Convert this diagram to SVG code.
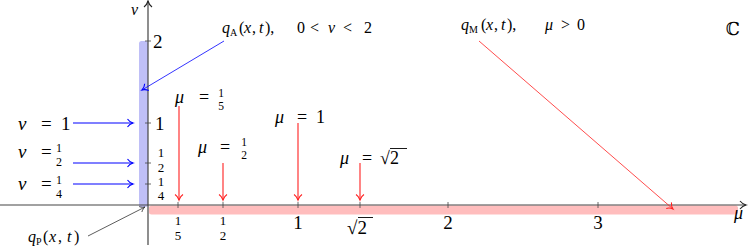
<svg xmlns="http://www.w3.org/2000/svg" width="748" height="249" viewBox="0 0 748 249">
<style>
text{font-family:"Liberation Serif","DejaVu Serif",serif;fill:#000}
.i{font-style:italic}
.ax{stroke:#444;stroke-width:1.2;fill:none}
.tk{stroke:#444;stroke-width:0.8}
.bl{stroke:#0000ff;stroke-width:1.1;fill:none}
.bt{stroke:#0000ff;stroke-width:0.8;fill:none}
.rd{stroke:#ff2020;stroke-width:1.1;fill:none}
.rt{stroke:#ff2020;stroke-width:0.8;fill:none}
.kt{stroke:#333;stroke-width:0.8;fill:none}
.big{font-size:19px}
.mid{font-size:18px}
.sm{font-size:13px}
.fr{font-size:12px}
.fs{font-size:11.5px}
.lab{font-size:16px}
.sub{font-size:10px}
</style>
<defs>
<marker id="ak" markerUnits="userSpaceOnUse" orient="auto" overflow="visible" refX="0" refY="0" markerWidth="10" markerHeight="10"><path d="M-6,-4 C-4,-1.5 -1.5,-0.4 0,0 C-1.5,0.4 -4,1.5 -6,4" fill="none" stroke="#222" stroke-width="1.1"/></marker>
<marker id="ab" markerUnits="userSpaceOnUse" orient="auto" overflow="visible" refX="0" refY="0" markerWidth="10" markerHeight="10"><path d="M-5.5,-4 C-3.8,-1.4 -1.4,-0.4 0,0 C-1.4,0.4 -3.8,1.4 -5.5,4" fill="none" stroke="#0000ff" stroke-width="1.1"/></marker>
<marker id="ar" markerUnits="userSpaceOnUse" orient="auto" overflow="visible" refX="0" refY="0" markerWidth="10" markerHeight="10"><path d="M-5.5,-4 C-3.8,-1.4 -1.4,-0.4 0,0 C-1.4,0.4 -3.8,1.4 -5.5,4" fill="none" stroke="#ff2020" stroke-width="1.1"/></marker>
<marker id="ak2" markerUnits="userSpaceOnUse" orient="auto" overflow="visible" refX="0" refY="0" markerWidth="10" markerHeight="10"><path d="M-5,-3 C-3.4,-1.1 -1.2,-0.3 0,0 C-1.2,0.3 -3.4,1.1 -5,3" fill="none" stroke="#333" stroke-width="0.8"/></marker>
</defs>

<g id="bands">
<rect x="139" y="41" width="9" height="166" rx="2.5" fill="#bfbff7"/>
<rect x="149" y="205.5" width="589" height="9" rx="2.5" fill="#ffbdbd"/>
</g>

<g id="axes">
<line class="ax" x1="0" y1="205" x2="746" y2="205" marker-end="url(#ak)"/>
<line class="ax" x1="148" y1="245" x2="148" y2="1" marker-end="url(#ak)"/>
<g class="tk">
<line x1="145" y1="41" x2="151" y2="41"/>
<line x1="145" y1="123" x2="151" y2="123"/>
<line x1="145" y1="163" x2="151" y2="163"/>
<line x1="145" y1="184" x2="151" y2="184"/>
<line x1="178" y1="202" x2="178" y2="208"/>
<line x1="223" y1="202" x2="223" y2="208"/>
<line x1="298" y1="202" x2="298" y2="208"/>
<line x1="360" y1="202" x2="360" y2="208"/>
<line x1="448" y1="202" x2="448" y2="208"/>
<line x1="598" y1="202" x2="598" y2="208"/>
</g>
<text class="i" font-size="16" x="131" y="15">ν</text>
<text class="i mid" x="734" y="219">μ</text>
<text class="big" x="153" y="48">2</text>
<text class="big" x="155" y="130">1</text>
<text class="sm" text-anchor="middle"><tspan x="161" y="157">1</tspan><tspan x="161" y="172">2</tspan></text>
<text class="sm" text-anchor="middle"><tspan x="161" y="186">1</tspan><tspan x="161" y="200">4</tspan></text>
<text class="sm" text-anchor="middle"><tspan x="178" y="225">1</tspan><tspan x="178" y="240">5</tspan></text>
<text class="sm" text-anchor="middle"><tspan x="223" y="225">1</tspan><tspan x="223" y="240">2</tspan></text>
<text class="big" text-anchor="middle" x="298" y="229">1</text>
<text class="big" x="347" y="234">√2</text>
<line x1="358" y1="217.5" x2="373" y2="217.5" stroke="#000" stroke-width="0.9"/>
<text class="big" text-anchor="middle" x="448" y="229">2</text>
<text class="big" text-anchor="middle" x="598" y="229">3</text>
<text x="733" y="35" font-size="18" text-anchor="middle" font-family="DejaVu Serif, serif">ℂ</text>
</g>

<g id="nu-labels">
<text class="big" y="130"><tspan class="i" x="18">ν</tspan><tspan x="41">=</tspan><tspan x="61">1</tspan></text>
<text class="big" y="158"><tspan class="i" x="18">ν</tspan><tspan x="41">=</tspan></text>
<text class="fr" text-anchor="middle"><tspan x="59" y="152">1</tspan><tspan x="59" y="166">2</tspan></text>
<text class="big" y="190"><tspan class="i" x="18">ν</tspan><tspan x="41">=</tspan></text>
<text class="fr" text-anchor="middle"><tspan x="59" y="184">1</tspan><tspan x="59" y="198">4</tspan></text>
</g>

<g id="mu-labels">
<text class="mid" y="103"><tspan class="i" x="175">μ</tspan><tspan x="199">=</tspan></text>
<text class="fs" text-anchor="middle"><tspan x="221" y="97">1</tspan><tspan x="221" y="110">5</tspan></text>
<text class="mid" y="153"><tspan class="i" x="198">μ</tspan><tspan x="220">=</tspan></text>
<text class="fs" text-anchor="middle"><tspan x="244" y="146">1</tspan><tspan x="244" y="159">2</tspan></text>
<text class="mid" y="123"><tspan class="i" x="275">μ</tspan><tspan x="297">=</tspan><tspan x="316">1</tspan></text>
<text class="mid" y="164"><tspan class="i" x="340">μ</tspan><tspan x="362">=</tspan><tspan x="380">√2</tspan></text>
<line x1="390" y1="148.5" x2="407" y2="148.5" stroke="#000" stroke-width="0.9"/>
</g>

<g id="q-labels">
<text class="lab" y="33"><tspan class="i" x="222">q</tspan><tspan class="sub" x="230" dy="3">A</tspan><tspan x="239" dy="-3">(</tspan><tspan class="i" x="244">x</tspan><tspan x="252">,</tspan><tspan class="i" x="259">t</tspan><tspan x="265">),</tspan></text>
<text class="lab" y="33"><tspan x="297">0</tspan><tspan x="310">&lt;</tspan><tspan class="i" x="328">ν</tspan><tspan x="343">&lt;</tspan><tspan x="364">2</tspan></text>
<text class="lab" y="30"><tspan class="i" x="461">q</tspan><tspan class="sub" x="469" dy="3">M</tspan><tspan x="481" dy="-3">(</tspan><tspan class="i" x="486">x</tspan><tspan x="494">,</tspan><tspan class="i" x="501">t</tspan><tspan x="507">),</tspan></text>
<text class="lab" y="30"><tspan class="i" x="545">μ</tspan><tspan x="561">&gt;</tspan><tspan x="577">0</tspan></text>
<text class="lab" font-size="17" y="242"><tspan class="i" x="28">q</tspan><tspan class="sub" x="36" dy="3">P</tspan><tspan x="43" dy="-3">(</tspan><tspan class="i" x="49">x</tspan><tspan x="58">,</tspan><tspan class="i" x="67">t</tspan><tspan x="74">)</tspan></text>
</g>

<g id="connectors">
<line class="bl" x1="73" y1="123" x2="133" y2="123" marker-end="url(#ab)"/>
<line class="bl" x1="73" y1="163" x2="133" y2="163" marker-end="url(#ab)"/>
<line class="bl" x1="73" y1="184" x2="133" y2="184" marker-end="url(#ab)"/>
<line class="bt" x1="224" y1="41" x2="142" y2="90" marker-end="url(#ab)"/>
<line class="rd" x1="179" y1="106" x2="179" y2="200" marker-end="url(#ar)"/>
<line class="rd" x1="223" y1="163" x2="223" y2="200" marker-end="url(#ar)"/>
<line class="rd" x1="298" y1="123" x2="298" y2="200" marker-end="url(#ar)"/>
<line class="rd" x1="360" y1="163" x2="360" y2="200" marker-end="url(#ar)"/>
<line class="rt" x1="479" y1="41" x2="673" y2="209" marker-end="url(#ar)"/>
<line class="kt" x1="88" y1="236" x2="145" y2="207" marker-end="url(#ak2)"/>
</g>
</svg>
